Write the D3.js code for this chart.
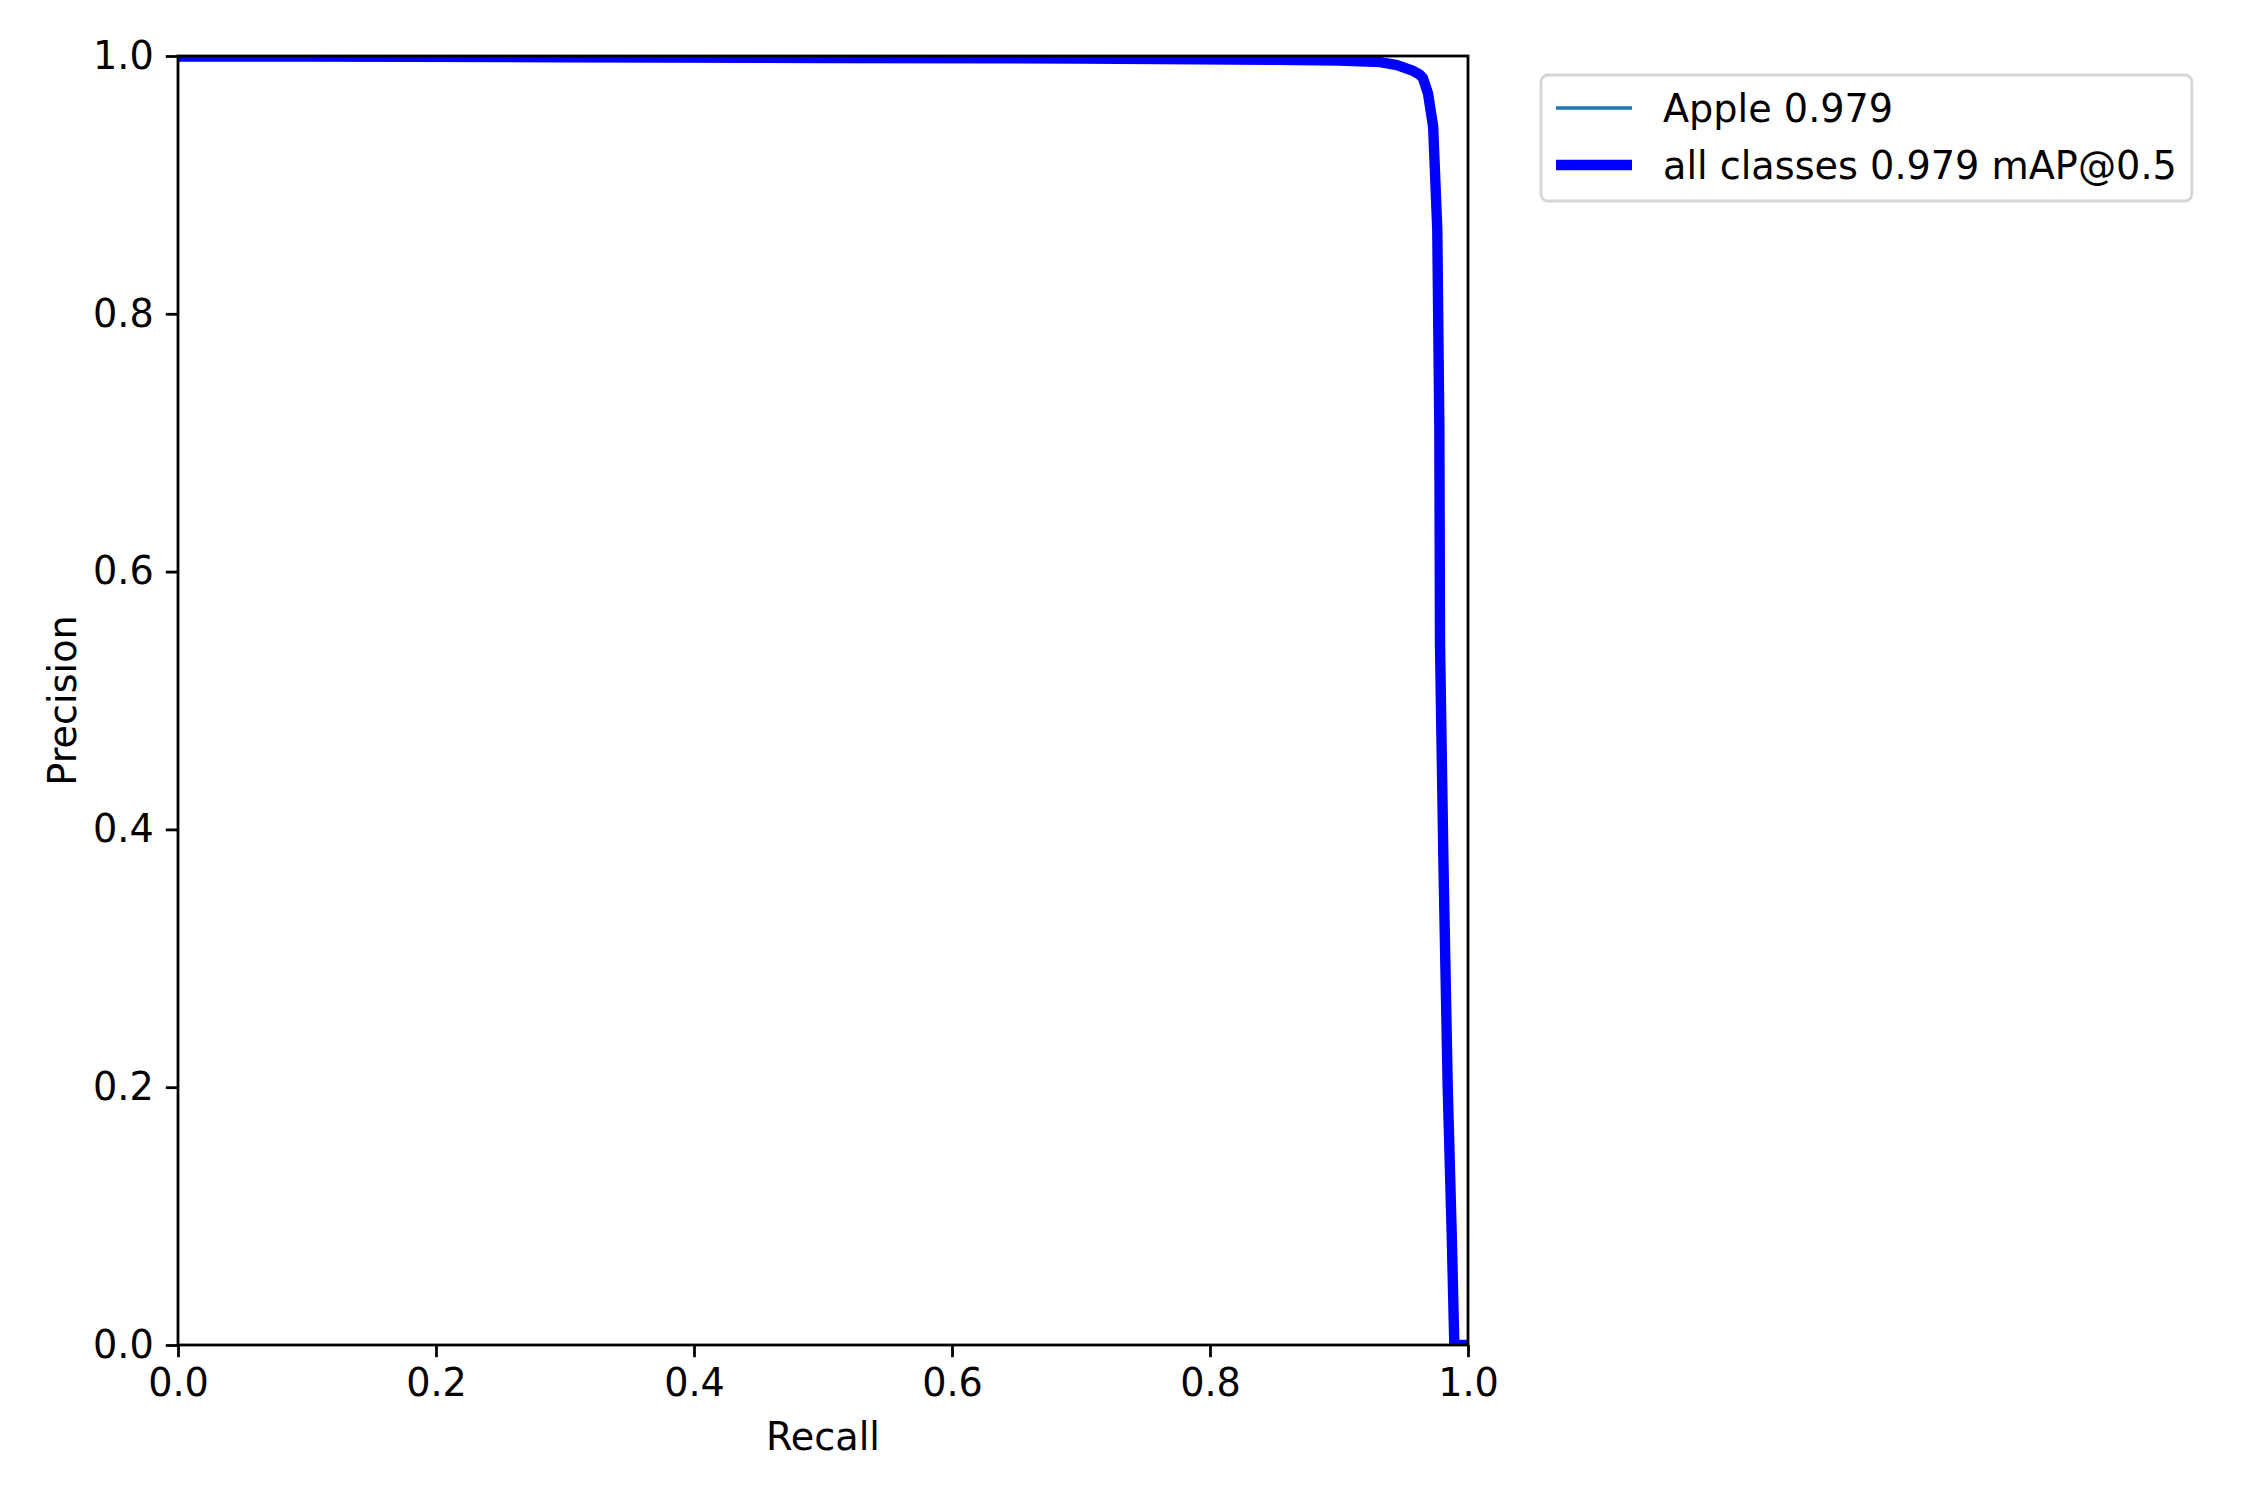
<!DOCTYPE html>
<html><head><meta charset="utf-8">
<script src="https://cdn.jsdelivr.net/npm/d3@7"></script>
<style>body{margin:0;background:#fff}svg{display:block}text{font-family:"DejaVu Sans",sans-serif;fill:#000}</style>
</head><body>
<script>
// Recall / precision readings (all classes = Apple, single class)
const recall    = [0.0, 0.10, 0.30, 0.50, 0.70, 0.85, 0.90, 0.932, 0.945, 0.957, 0.962, 0.965, 0.969, 0.973, 0.9762, 0.977, 0.9778, 0.9783, 0.981, 0.9843, 0.9874, 0.9894, 1.0];
const precision = [0.9995, 0.9995, 0.999, 0.9985, 0.998, 0.997, 0.9965, 0.9953, 0.993, 0.9886, 0.986, 0.983, 0.971, 0.945, 0.865, 0.787, 0.710, 0.544, 0.372, 0.199, 0.085, 0.0, 0.0];
const xTicks = [0.0, 0.2, 0.4, 0.6, 0.8, 1.0];
const yTicks = [0.0, 0.2, 0.4, 0.6, 0.8, 1.0];
const legendLabels = ["Apple 0.979", "all classes 0.979 mAP@0.5"];

const W = 2250, H = 1500;
const L = 178, R = 1468, T = 56, B = 1345;
const svg = d3.select("body").append("svg").attr("width", W).attr("height", H);
const x = d3.scaleLinear().domain([0, 1]).range([L, R]);
const y = d3.scaleLinear().domain([0, 1]).range([B, T]);
const pts = recall.map((r, i) => [r, precision[i]]);
const line = d3.line().x(d => x(d[0])).y(d => y(d[1]));

svg.append("clipPath").attr("id", "c").append("rect")
  .attr("x", L).attr("y", T).attr("width", R - L).attr("height", B - T);
const g = svg.append("g").attr("clip-path", "url(#c)");
g.append("path").datum(pts).attr("d", line).attr("fill", "none")
  .attr("stroke", "#1f77b4").attr("stroke-width", 3.5);
g.append("path").datum(pts).attr("d", line).attr("fill", "none")
  .attr("stroke", "#0000ff").attr("stroke-width", 10.4).attr("stroke-linejoin", "round").attr("stroke-linecap", "square");

const fs = 38.2;
const xa = svg.append("g").attr("transform", `translate(0,${B})`)
  .call(d3.axisBottom(x).tickValues(xTicks).tickFormat(d3.format(".1f")).tickSize(12.2).tickPadding(12));
const ya = svg.append("g").attr("transform", `translate(${L},0)`)
  .call(d3.axisLeft(y).tickValues(yTicks).tickFormat(d3.format(".1f")).tickSize(12.2).tickPadding(12));
[xa, ya].forEach(a => {
  a.select(".domain").remove();
  a.selectAll(".tick line").attr("stroke", "#000").attr("stroke-width", 2.8);
  a.selectAll(".tick text").attr("font-size", fs).attr("font-family", "DejaVu Sans").attr("fill", "#000");
});
xa.selectAll(".tick text").attr("dy", "0.71em");
svg.append("rect").attr("x", L).attr("y", T).attr("width", R - L).attr("height", B - T)
  .attr("fill", "none").attr("stroke", "#000").attr("stroke-width", 2.8);

svg.append("text").attr("x", (L + R) / 2).attr("y", 1450).attr("text-anchor", "middle")
  .attr("font-size", fs).text("Recall");
svg.append("text").attr("transform", `translate(76,${(T + B) / 2}) rotate(-90)`).attr("text-anchor", "middle")
  .attr("font-size", fs).text("Precision");

// legend
const lg = svg.append("g");
const box = lg.append("rect").attr("x", 1541).attr("y", 75).attr("height", 126)
  .attr("rx", 7).attr("fill", "#fff").attr("stroke", "#d6d6d6").attr("stroke-width", 2.8);
const rows = [{c: "#1f77b4", w: 3.5, yy: 108}, {c: "#0000ff", w: 10.4, yy: 165}];
let maxR = 0;
rows.forEach((r, i) => {
  lg.append("line").attr("x1", 1556).attr("x2", 1632).attr("y1", r.yy).attr("y2", r.yy)
    .attr("stroke", r.c).attr("stroke-width", r.w);
  const t = lg.append("text").attr("x", 1663).attr("y", r.yy).attr("dy", "0.36em").attr("font-size", fs).text(legendLabels[i]);
  maxR = Math.max(maxR, 1663 + t.node().getComputedTextLength());
});
box.attr("width", maxR + 15 - 1541);
</script>
</body></html>
